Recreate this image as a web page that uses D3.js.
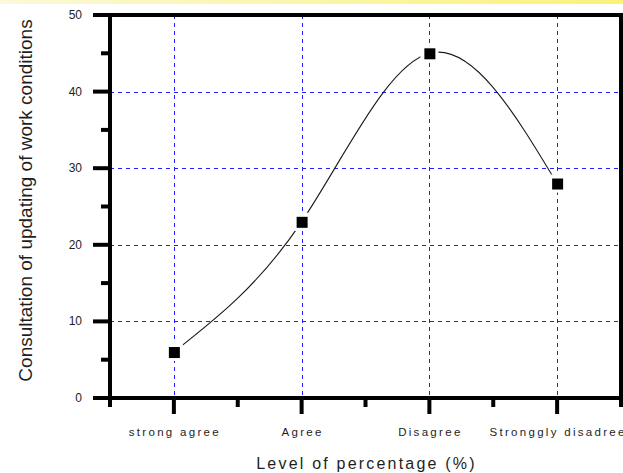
<!DOCTYPE html>
<html>
<head>
<meta charset="utf-8">
<script src="https://cdn.jsdelivr.net/npm/d3@7/dist/d3.min.js"></script>
<style>
  html, body { margin: 0; padding: 0; background: #fff; }
  svg { display: block; font-family: "Liberation Sans", Arial, sans-serif; }
</style>
</head>
<body>
<svg id="chart" width="623" height="473"></svg>
<script>
// Survey responses: consultation on updating of work conditions
const categories = ["strong agree", "Agree", "Disagree", "Stronggly disadree"];
const values = [6, 23, 45, 28];
const yMajorTicks = [0, 10, 20, 30, 40, 50];
const yMinorTicks = [5, 15, 25, 35, 45];
const yGridTicks = [10, 20, 30, 40];

const W = 623, H = 473;
const margin = { left: 110, right: 2, top: 15, bottom: 75 };
const x0 = margin.left, x1 = W - margin.right;
const yTop = margin.top, yBot = H - margin.bottom;

const svg = d3.select("#chart");

// thin yellow band across the top of the page
const defs = svg.append("defs");
const grad = defs.append("linearGradient").attr("id", "band")
  .attr("x1", "0%").attr("x2", "100%");
grad.append("stop").attr("offset", "0%").attr("stop-color", "#fbf9d8");
grad.append("stop").attr("offset", "100%").attr("stop-color", "#faf27a");
svg.append("rect").attr("x", 0).attr("y", 0).attr("width", W).attr("height", 4)
  .attr("fill", "url(#band)");

const x = d3.scalePoint().domain(categories).range([x0, x1]).padding(0.5);
const y = d3.scaleLinear().domain([0, 50]).range([yBot, yTop]);
const step = x.step();
const xMinor = d3.range(categories.length + 1).map(i => x0 + i * step);

// dashed blue grid
const grid = svg.append("g")
  .attr("stroke", "#1f1fff").attr("stroke-width", 1).attr("stroke-dasharray", "4,4");
grid.selectAll("line.h").data(yGridTicks).join("line").attr("class", "h")
  .attr("x1", x0).attr("x2", x1)
  .attr("y1", d => Math.round(y(d)) + 0.5).attr("y2", d => Math.round(y(d)) + 0.5);
grid.selectAll("line.v").data(categories).join("line").attr("class", "v")
  .attr("y1", yTop).attr("y2", yBot)
  .attr("x1", d => Math.round(x(d)) + 0.5).attr("x2", d => Math.round(x(d)) + 0.5);

// frame and ticks
const axisG = svg.append("g").attr("stroke", "#000").attr("stroke-width", 4)
  .attr("stroke-linecap", "butt");
axisG.append("rect").attr("x", x0).attr("y", yTop).attr("width", x1 - x0).attr("height", yBot - yTop)
  .attr("fill", "none");
axisG.selectAll("line.ymaj").data(yMajorTicks).join("line")
  .attr("x1", x0 - 17).attr("x2", x0).attr("y1", d => y(d)).attr("y2", d => y(d));
axisG.selectAll("line.ymin").data(yMinorTicks).join("line")
  .attr("x1", x0 - 9).attr("x2", x0).attr("y1", d => y(d)).attr("y2", d => y(d));
axisG.selectAll("line.xmaj").data(categories).join("line")
  .attr("x1", d => x(d)).attr("x2", d => x(d)).attr("y1", yBot).attr("y2", yBot + 16);
axisG.selectAll("line.xmin").data(xMinor).join("line")
  .attr("x1", d => d).attr("x2", d => d).attr("y1", yBot).attr("y2", yBot + 9);

// tick labels
svg.append("g").attr("font-size", 12).attr("fill", "#1e1e1e").attr("text-anchor", "end")
  .selectAll("text").data(yMajorTicks).join("text")
  .attr("x", x0 - 28).attr("y", d => y(d) + 4).text(d => d);
svg.append("g").attr("font-size", 11.5).attr("fill", "#1e1e1e").attr("text-anchor", "middle")
  .attr("letter-spacing", 2.3)
  .selectAll("text").data(categories).join("text")
  .attr("x", d => x(d) + 1).attr("y", yBot + 38).text(d => d);

// axis titles
svg.append("text").attr("x", (x0 + x1) / 2 + 1).attr("y", H - 4)
  .attr("text-anchor", "middle").attr("font-size", 16).attr("letter-spacing", 2.2)
  .attr("fill", "#1e1e1e").text("Level of percentage (%)");
svg.append("text").attr("transform", `translate(32, ${(yTop + yBot) / 2 - 6}) rotate(-90)`)
  .attr("text-anchor", "middle").attr("font-size", 19)
  .attr("fill", "#1e1e1e").text("Consultation of updating of work conditions");

// smooth curve through the responses
const pts = categories.map((c, i) => [x(c), y(values[i])]);
svg.append("path").datum(pts)
  .attr("d", d3.line().curve(d3.curveNatural))
  .attr("fill", "none").attr("stroke", "#1a1a1a").attr("stroke-width", 1.1);

// square markers with a small clearance around them
const mk = svg.append("g");
mk.selectAll("rect.gap").data(pts).join("rect").attr("class", "gap")
  .attr("x", d => d[0] - 9).attr("y", d => d[1] - 9).attr("width", 18).attr("height", 18)
  .attr("fill", "#fff");
mk.selectAll("rect.pt").data(pts).join("rect").attr("class", "pt")
  .attr("x", d => d[0] - 5).attr("y", d => d[1] - 5).attr("width", 11).attr("height", 11)
  .attr("fill", "#000");
</script>
</body>
</html>
